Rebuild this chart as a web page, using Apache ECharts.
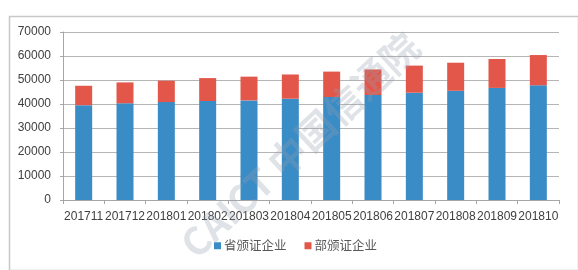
<!DOCTYPE html>
<html><head><meta charset="utf-8">
<script src="https://cdn.jsdelivr.net/npm/echarts@6/dist/echarts.min.js"></script>
<style>html,body{margin:0;padding:0;background:#fff}#c{width:578px;height:270px}</style>
</head><body><div id="c"></div>
<script>
var categories = ['201711','201712','201801','201802','201803','201804','201805','201806','201807','201808','201809','201810'];
var provincial = [39500, 40300, 40800, 41250, 41500, 42200, 42900, 43750, 44700, 45500, 46700, 47800];
var ministerial = [8100, 8700, 8900, 9550, 9900, 10100, 10600, 10650, 11300, 11700, 12050, 12600];
var seriesNames = ['省颁证企业', '部颁证企业'];
var yTicks = [0, 10000, 20000, 30000, 40000, 50000, 60000, 70000];

var chart = echarts.init(document.getElementById('c'), null, {renderer: 'canvas'});
chart.setOption({
  animation: false,
  backgroundColor: '#fff',
  color: ['#3a8cc6', '#e3574b'],
  grid: {left: 63, right: 19, top: 32, bottom: 70, containLabel: false},
  legend: {
    bottom: 13, left: 209, itemWidth: 7, itemHeight: 7, itemGap: 18,
    icon: 'rect',
    textStyle: {color: '#595959', fontSize: 12.5, fontFamily: 'Noto Sans CJK SC', padding: [0, 0, 0, -2]},
    data: seriesNames
  },
  xAxis: {
    type: 'category', data: categories,
    axisLine: {lineStyle: {color: '#a6a6a6'}},
    axisTick: {show: true, length: 4, lineStyle: {color: '#a6a6a6'}},
    axisLabel: {color: '#404040', fontSize: 12, fontFamily: 'Liberation Sans', margin: 11, interval: 0}
  },
  yAxis: {
    type: 'value', min: yTicks[0], max: yTicks[yTicks.length-1], interval: 10000,
    axisLine: {show: true, lineStyle: {color: '#a6a6a6'}},
    axisTick: {show: true, length: 3, lineStyle: {color: '#a6a6a6'}},
    splitLine: {lineStyle: {color: '#b5b5b5'}},
    axisLabel: {color: '#404040', fontSize: 12, fontFamily: 'Liberation Sans', margin: 12,
      formatter: function (v) { return String(v); }}
  },
  series: [
    {name: seriesNames[0], type: 'bar', stack: 't', data: provincial, barWidth: 17},
    {name: seriesNames[1], type: 'bar', stack: 't', data: ministerial, barWidth: 17}
  ],
  graphic: [
    {type: 'rect', left: 7, top: 14, shape: {width: 569, height: 254}, style: {fill: 'none', stroke: '#c8c8c8', lineWidth: 1.5}, z: -1},
    {type: 'text', x: 300, y: 145, rotation: Math.PI/4.2, originX: 0, originY: 0,
     style: {text: 'CAICT 中国信通院', fill: 'rgba(150,160,175,0.3)', font: 'bold 38px "Noto Sans CJK SC"', textAlign: 'center', textVerticalAlign: 'middle'}, z: 100}
  ]
});
</script></body></html>
